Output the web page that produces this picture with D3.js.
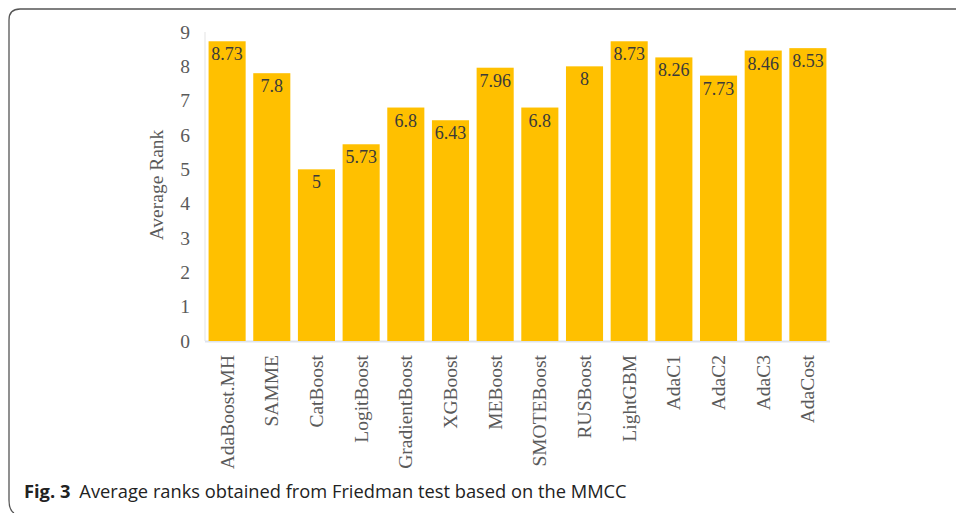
<!DOCTYPE html>
<meta charset="utf-8">
<style>
body { margin: 0; background: #fff; }
.tick text { font-family: "Liberation Serif", serif; fill: #5a5a5a; }
.val { font-family: "Liberation Serif", serif; font-size: 18px; fill: #3a3a3a; text-anchor: middle; }
.caption { font-family: "Open Sans", sans-serif; font-size: 18.3px; fill: #222; }
</style>
<svg width="956" height="513"></svg>
<script src="https://cdn.jsdelivr.net/npm/d3@7"></script>
<script>

var methods = ["AdaBoost.MH", "SAMME", "CatBoost", "LogitBoost", "GradientBoost", "XGBoost",
  "MEBoost", "SMOTEBoost", "RUSBoost", "LightGBM", "AdaC1", "AdaC2", "AdaC3", "AdaCost"];
var ranks = [8.73, 7.8, 5, 5.73, 6.8, 6.43, 7.96, 6.8, 8, 8.73, 8.26, 7.73, 8.46, 8.53];
var yTicks = [0, 1, 2, 3, 4, 5, 6, 7, 8, 9];

var svg = d3.select("svg");

// frame
svg.append("path")
    .attr("d", "M 970 9 L 20 9 Q 9 9 9 20 L 9 500 Q 9 510 14 513")
    .attr("fill", "none")
    .attr("stroke", "#555")
    .attr("stroke-width", 1.3);

var x = d3.scaleBand()
    .domain(methods)
    .range([205, 830])
    .paddingInner(0.17)
    .paddingOuter(0.08);

var y = d3.scaleLinear()
    .domain([0, 9])
    .range([341, 32]);

// axis lines
svg.append("line")
    .attr("x1", 205).attr("x2", 205)
    .attr("y1", y(9)).attr("y2", y(0))
    .attr("stroke", "#e3e3e3");
svg.append("line")
    .attr("x1", 205).attr("x2", 830)
    .attr("y1", y(0) + 0.5).attr("y2", y(0) + 0.5)
    .attr("stroke", "#dde3ee").attr("stroke-width", 2);

var yAxis = svg.append("g")
    .attr("transform", "translate(195,0)")
    .call(d3.axisLeft(y).tickValues(yTicks).tickSize(0).tickPadding(0));
yAxis.select(".domain").remove();
yAxis.selectAll("text").style("font-size", "19.5px").attr("text-anchor", "middle").attr("x", -10);

svg.append("text")
    .attr("transform", "translate(163,185) rotate(-90)")
    .attr("text-anchor", "middle")
    .style("font-family", "Liberation Serif, serif")
    .style("font-size", "19.5px")
    .style("fill", "#5a5a5a")
    .text("Average Rank");

svg.selectAll("rect.bar")
    .data(methods)
    .enter().append("rect")
    .attr("class", "bar")
    .attr("x", function(d) { return x(d); })
    .attr("width", x.bandwidth())
    .attr("y", function(d, i) { return y(ranks[i]); })
    .attr("height", function(d, i) { return y(0) - y(ranks[i]); })
    .attr("fill", "#ffc000");

svg.selectAll("text.val")
    .data(methods)
    .enter().append("text")
    .attr("class", "val")
    .attr("x", function(d) { return x(d) + x.bandwidth() / 2; })
    .attr("y", function(d, i) { return y(ranks[i]) + 19; })
    .text(function(d, i) { return ranks[i]; });

var xAxis = svg.append("g")
    .attr("transform", "translate(0," + y(0) + ")")
    .call(d3.axisBottom(x).tickSize(0));
xAxis.select(".domain").remove();
xAxis.selectAll("text")
    .style("font-size", "19.5px")
    .attr("transform", "rotate(-90)")
    .attr("text-anchor", "end")
    .attr("x", -14)
    .attr("y", 0)
    .attr("dy", "0.33em");

var cap = svg.append("text")
    .attr("class", "caption")
    .attr("x", 24)
    .attr("y", 498);
cap.append("tspan").style("font-weight", "bold").text("Fig. 3");
cap.append("tspan").attr("dx", 9).text("Average ranks obtained from Friedman test based on the MMCC");

</script>
